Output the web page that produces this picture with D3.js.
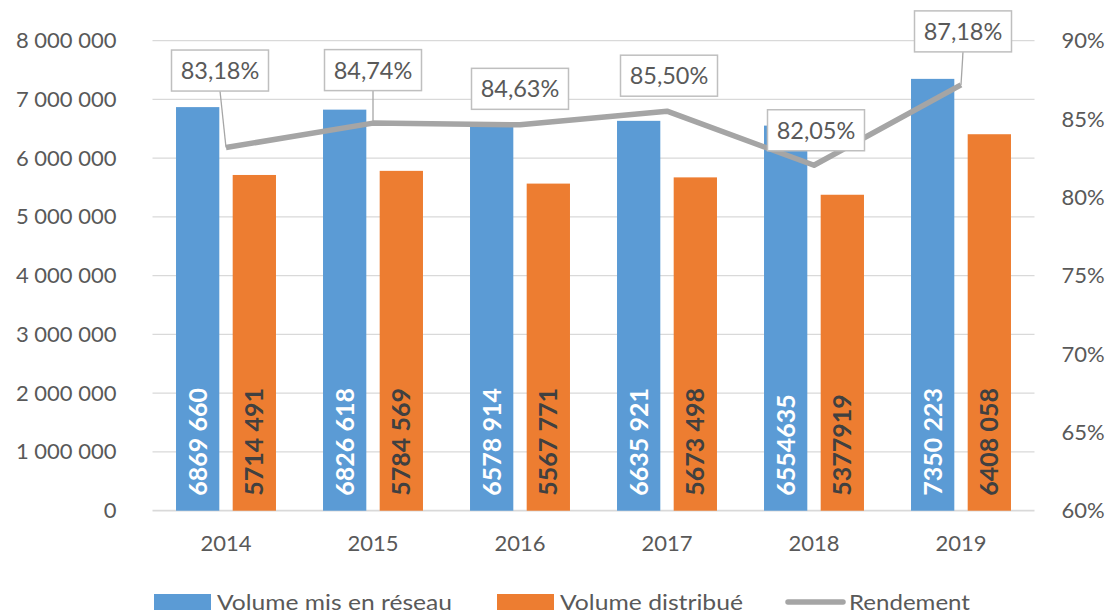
<!DOCTYPE html>
<html><head><meta charset="utf-8">
<script src="https://cdn.jsdelivr.net/npm/d3@7"></script>
<style>body{margin:0;background:#fff}svg{display:block}text{font-family:Lato,"Open Sans",sans-serif}</style>
</head><body><svg id="c" width="1109" height="612"></svg>
<script>
const years = ["2014","2015","2016","2017","2018","2019"];
const volumeReseau = [6869660, 6826618, 6578914, 6635921, 6554635, 7350223];
const volumeDistribue = [5714491, 5784569, 5567771, 5673498, 5377919, 6408058];
const rendement = [83.18, 84.74, 84.63, 85.50, 82.05, 87.18];
const barLabelsReseau = ["6869 660","6826 618","6578 914","6635 921","6554635","7350 223"];
const barLabelsDistribue = ["5714 491","5784 569","5567 771","5673 498","5377919","6408 058"];
const rendLabels = ["83,18%","84,74%","84,63%","85,50%","82,05%","87,18%"];
const leftTicks = [0,1000000,2000000,3000000,4000000,5000000,6000000,7000000,8000000];
const rightTicks = [60,65,70,75,80,85,90];
const seriesNames = ["Volume mis en réseau","Volume distribué","Rendement"];

// layout (label box offsets from point, px) and legend text widths
const labelOffsets = [[-6,-77],[0,-53],[0,-36],[2,-35.5],[2,-35],[2,-53.5]];
const leaderShown = [true,true,false,false,false,true];
const legendTextWidths = [235,183,121];
const legendGaps = [45,43,0];

const W=1109,H=612;
const m={l:152.5,r:1034.5,t:40.7,b:510.7};
const colors={blue:"#5b9bd5",orange:"#ed7d31",gray:"#a5a5a5",grid:"#d9d9d9",text:"#595959"};
const svg=d3.select("#c");

const x0=d3.scaleBand().domain(years).range([m.l,m.r]).paddingInner(0.32).paddingOuter(0.16);
const x1=d3.scaleBand().domain([0,1]).range([0,x0.bandwidth()]).paddingInner(0.236);
const y=d3.scaleLinear().domain([0,8000000]).range([m.b,m.t]);
const y2=d3.scaleLinear().domain([60,90]).range([m.b,m.t]);

// gridlines
svg.append("g").selectAll("line").data(leftTicks).join("line")
  .attr("x1",m.l).attr("x2",m.r).attr("y1",d=>y(d)).attr("y2",d=>y(d))
  .attr("stroke",colors.grid).attr("stroke-width",d=>d===0?1.8:1.3);

// left axis
const fmt=d=>d3.format(",")(d).replace(/,/g," ");
const ga=svg.append("g").attr("transform",`translate(${m.l-36},0)`)
  .call(d3.axisLeft(y).tickValues(leftTicks).tickFormat(fmt).tickSize(0).tickPadding(0));
ga.select(".domain").remove();
ga.selectAll("text").attr("font-size",22).attr("fill",colors.text).attr("font-family","Lato");

const gr=svg.append("g").attr("transform",`translate(${m.r+27},0)`)
  .call(d3.axisRight(y2).tickValues(rightTicks).tickFormat(d=>d+"%").tickSize(0).tickPadding(0));
gr.select(".domain").remove();
gr.selectAll("text").attr("font-size",22).attr("fill",colors.text).attr("font-family","Lato");

const gb=svg.append("g").attr("transform",`translate(0,${m.b})`)
  .call(d3.axisBottom(x0).tickSize(0).tickPadding(0));
gb.select(".domain").remove();
gb.selectAll("text").attr("font-size",22).attr("fill",colors.text).attr("font-family","Lato")
  .attr("dy",null).attr("y",40);

// bars
const series=[volumeReseau,volumeDistribue];
const barCols=[colors.blue,colors.orange];
const labs=[barLabelsReseau,barLabelsDistribue];
const labCols=["#ffffff","#404040"];
series.forEach((vals,si)=>{
  const g=svg.append("g");
  g.selectAll("rect").data(vals).join("rect")
    .attr("x",(d,i)=>x0(years[i])+x1(si)).attr("width",x1.bandwidth())
    .attr("y",d=>y(d)).attr("height",d=>m.b-y(d)).attr("fill",barCols[si]);
  g.selectAll("text").data(labs[si]).join("text")
    .attr("transform",(d,i)=>`translate(${x0(years[i])+x1(si)+x1.bandwidth()/2},${m.b-15}) rotate(-90)`)
    .attr("dy","0.36em").attr("font-size",25).attr("font-weight","bold")
    .attr("fill",labCols[si]).text(d=>d);
});

// line
const px=i=>x0(years[i])+x0.bandwidth()/2;
const line=d3.line().x((d,i)=>px(i)).y(d=>y2(d));
svg.append("path").datum(rendement).attr("d",line).attr("fill","none")
  .attr("stroke",colors.gray).attr("stroke-width",5.5).attr("stroke-linejoin","round");

// labels
const bw=97,bh=41;
const lg=svg.append("g");
rendement.forEach((v,i)=>{
  const cx=px(i)+labelOffsets[i][0], cy=y2(v)+labelOffsets[i][1];
  if(leaderShown[i]){
    lg.append("line").attr("x1",cx).attr("y1",cy+bh/2).attr("x2",px(i)).attr("y2",y2(v))
      .attr("stroke","#a6a6a6").attr("stroke-width",1.3);
  }
  lg.append("rect").attr("x",cx-bw/2).attr("y",cy-bh/2).attr("width",bw).attr("height",bh)
    .attr("fill","#fff").attr("stroke","#bfbfbf").attr("stroke-width",1.5);
  lg.append("text").attr("x",cx).attr("y",cy).attr("dy","0.36em").attr("text-anchor","middle")
    .attr("font-size",23.5).attr("fill",colors.text).text(rendLabels[i]);
});

// legend
const leg=svg.append("g");
let lx=154;
const ly=602;
seriesNames.forEach((name,i)=>{
  if(i<2){
    leg.append("rect").attr("x",lx).attr("y",ly-8).attr("width",57).attr("height",16).attr("fill",barCols[i]);
  } else {
    leg.append("line").attr("x1",lx+2).attr("x2",lx+57).attr("y1",ly).attr("y2",ly)
      .attr("stroke",colors.gray).attr("stroke-width",5.5).attr("stroke-linecap","round");
  }
  leg.append("text").attr("x",lx+63).attr("y",ly+7.5).attr("font-size",21)
    .attr("textLength",legendTextWidths[i]).attr("lengthAdjust","spacingAndGlyphs")
    .attr("fill",colors.text).text(name);
  lx=lx+63+legendTextWidths[i]+legendGaps[i];
});
</script></body></html>
